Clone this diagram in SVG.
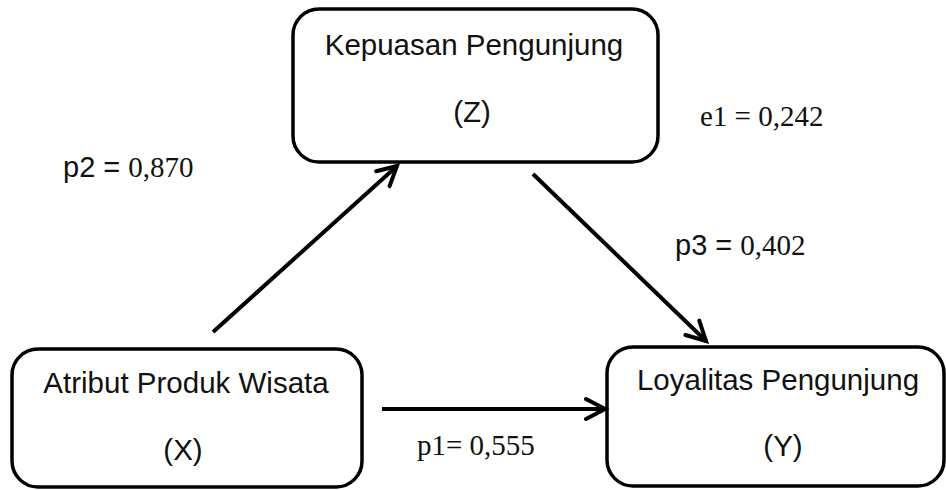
<svg xmlns="http://www.w3.org/2000/svg" width="946" height="490" viewBox="0 0 946 490">
<style>
.box{fill:#fff;stroke:#000;stroke-width:3.5}
.t{font-family:"Liberation Sans",Arial,sans-serif;font-size:29.5px;fill:#111;text-anchor:middle}
.lbl{font-family:"Liberation Serif","Times New Roman",serif;font-size:29px;fill:#111}
.sans{font-family:"Liberation Sans",Arial,sans-serif}
.c{stroke:#000;stroke-width:4;fill:none}
</style>
<defs>
<marker id="ah" markerUnits="userSpaceOnUse" viewBox="-24 -14 28 28" markerWidth="28" markerHeight="28" refX="0" refY="0" orient="auto">
<path d="M-19,-10 L0,0 L-19,10" fill="none" stroke="#000" stroke-width="4" stroke-linecap="round" stroke-linejoin="miter"/>
</marker>
</defs>
<rect width="946" height="490" fill="#fff"/>
<g id="node-z">
<rect class="box" x="293" y="9" width="365" height="153" rx="26"/>
<text class="t" x="474" y="55">Kepuasan Pengunjung</text>
<text class="t" x="472" y="122">(Z)</text>
</g>
<g id="node-x">
<rect class="box" x="12" y="349" width="350" height="138" rx="26"/>
<text class="t" x="186" y="393">Atribut Produk Wisata</text>
<text class="t" x="183" y="460">(X)</text>
</g>
<g id="node-y">
<rect class="box" x="607" y="347" width="337" height="139" rx="26"/>
<text class="t" x="778" y="390">Loyalitas Pengunjung</text>
<text class="t" x="783" y="456">(Y)</text>
</g>
<g id="connectors">
<line class="c" x1="213" y1="332" x2="397" y2="166" marker-end="url(#ah)"/>
<line class="c" x1="533" y1="174" x2="706" y2="341" marker-end="url(#ah)"/>
<line class="c" x1="382" y1="409" x2="605" y2="409" marker-end="url(#ah)"/>
</g>
<g id="labels">
<text class="lbl" x="63" y="177"><tspan class="sans">p2 = </tspan>0,870</text>
<text class="lbl" x="700" y="126">e1 = 0,242</text>
<text class="lbl" x="675" y="255"><tspan class="sans">p3 = </tspan>0,402</text>
<text class="lbl" x="417" y="455">p1= 0,555</text>
</g>
</svg>
